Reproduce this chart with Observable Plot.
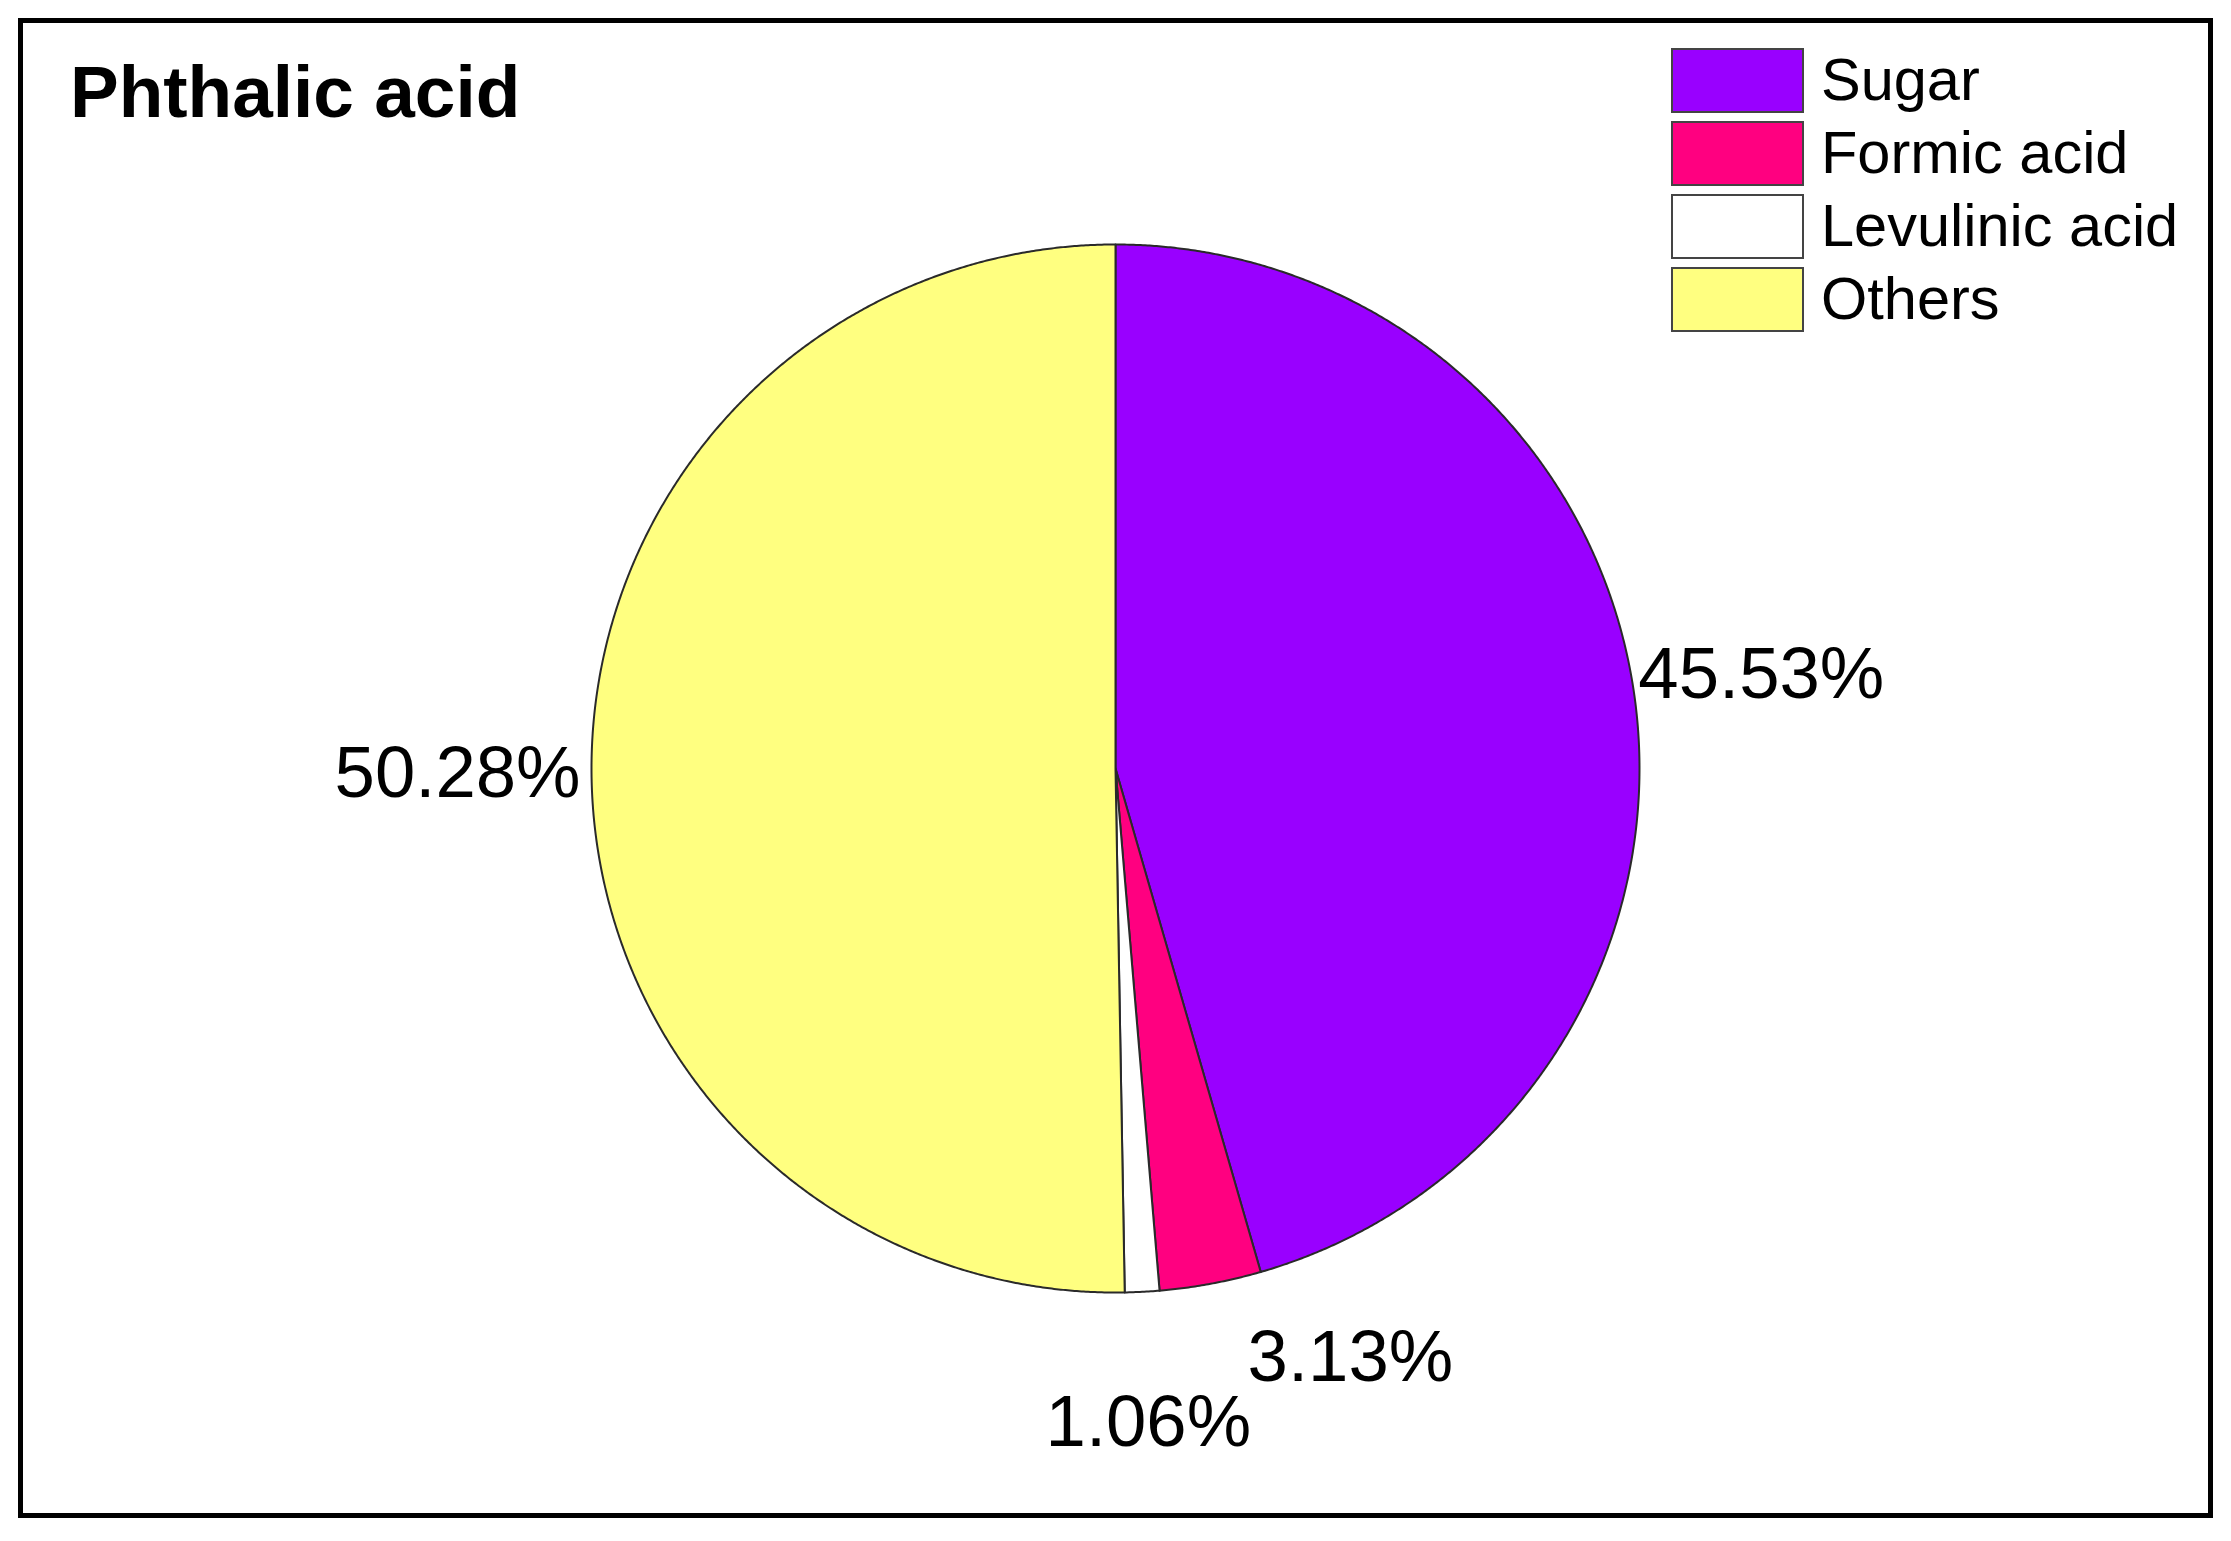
<!DOCTYPE html>
<html>
<head>
<meta charset="utf-8">
<script src="https://cdn.jsdelivr.net/npm/d3@7"></script>
<script src="https://cdn.jsdelivr.net/npm/@observablehq/plot@0.6"></script>
<style>
  html, body { margin: 0; padding: 0; background: #fff; }
  #wrap { position: relative; width: 2231px; height: 1541px; overflow: hidden; font-family: "Liberation Sans", Arial, sans-serif; }
  #title { position: absolute; left: 70px; top: 55px; font-size: 73px; font-weight: bold; line-height: 1; color: #000; white-space: nowrap; }
  .lrow { position: absolute; left: 1671px; height: 65px; display: flex; align-items: center; }
  .sw { width: 133px; height: 65px; box-sizing: border-box; border: 2px solid #444; }
  .lt { margin-left: 17px; font-size: 59.5px; line-height: 1; color: #000; white-space: nowrap; position: relative; top: -1px; }
</style>
</head>
<body>
<div id="wrap"></div>
<script>
// ---- data ----
const titleText = "Phthalic acid";
const categories = ["Sugar", "Formic acid", "Levulinic acid", "Others"];
const shares = [45.53, 3.13, 1.06, 50.28];
const colors = ["#9900ff", "#ff0080", "#ffffff", "#ffff80"];

// ---- layout (pixels) ----
const cx = 1115, cy = 768, R = 524;           // pie centre / radius in px
const frame = {left: 20, top: 20, right: 2210, bottom: 1515};
const W = 2231, H = 1541;
// label nudges in px relative to the arc point at the slice's mid-angle
const labelLayout = {
  "Sugar":          {dx: 4,   dy: -20, anchor: "start"},
  "Formic acid":    {dx: 37,  dy: 74,  anchor: "start"},
  "Levulinic acid": {dx: 109, dy: 131, anchor: "end"},
  "Others":         {dx: -11, dy: 1,   anchor: "end"}
};

const table = categories.map((name, i) => ({name, value: shares[i]}));
const arcs = d3.pie().sort(null).value(d => d.value).startAngle(0).endAngle(2 * Math.PI)(table);

// slice polygons in data units (radius = 1, y up)
const slicePts = [];
for (const a of arcs) {
  const n = Math.max(2, Math.ceil((a.endAngle - a.startAngle) / (Math.PI / 720)));
  slicePts.push({name: a.data.name, x: 0, y: 0});
  for (let k = 0; k <= n; k++) {
    const t = a.startAngle + (a.endAngle - a.startAngle) * k / n;
    slicePts.push({name: a.data.name, x: Math.sin(t), y: Math.cos(t)});
  }
}

const labels = arcs.map(a => {
  const m = (a.startAngle + a.endAngle) / 2;
  const L = labelLayout[a.data.name];
  return {
    name: a.data.name,
    text: a.data.value.toFixed(2) + "%",
    x: Math.sin(m) + L.dx / R,
    y: Math.cos(m) - L.dy / R,
    anchor: L.anchor
  };
});

const xDomain = [(frame.left - cx) / R, (frame.right - cx) / R];
const yDomain = [(cy - frame.bottom) / R, (cy - frame.top) / R];

const textOpts = {x: "x", y: "y", text: "text", fontSize: 72.5, fontFamily: "Liberation Sans, Arial, sans-serif", fill: "#000", lineAnchor: "middle"};

const chart = Plot.plot({
  width: W,
  height: H,
  marginLeft: frame.left,
  marginTop: frame.top,
  marginRight: W - frame.right,
  marginBottom: H - frame.bottom,
  x: {domain: xDomain, axis: null},
  y: {domain: yDomain, axis: null},
  color: {type: "ordinal", domain: categories, range: colors},
  style: {background: "transparent"},
  marks: [
    Plot.frame({stroke: "#000", strokeWidth: 5}),
    Plot.line(slicePts, {x: "x", y: "y", z: "name", fill: "name", stroke: "#2a2a2a", strokeWidth: 2, curve: "linear-closed", strokeLinejoin: "round"}),
    Plot.text(labels.filter(d => d.anchor === "start"), {...textOpts, textAnchor: "start"}),
    Plot.text(labels.filter(d => d.anchor === "end"), {...textOpts, textAnchor: "end"})
  ]
});

const wrap = document.getElementById("wrap");
chart.style.position = "absolute";
chart.style.left = "0px";
chart.style.top = "0px";
wrap.appendChild(chart);

const title = document.createElement("div");
title.id = "title";
title.textContent = titleText;
wrap.appendChild(title);

const colorScale = chart.scale("color");
categories.forEach((name, i) => {
  const row = document.createElement("div");
  row.className = "lrow";
  row.style.top = (48 + i * 73) + "px";
  const sw = document.createElement("div");
  sw.className = "sw";
  sw.style.background = colorScale.apply(name);
  const lt = document.createElement("div");
  lt.className = "lt";
  lt.textContent = name;
  row.appendChild(sw);
  row.appendChild(lt);
  wrap.appendChild(row);
});
</script>
</body>
</html>
